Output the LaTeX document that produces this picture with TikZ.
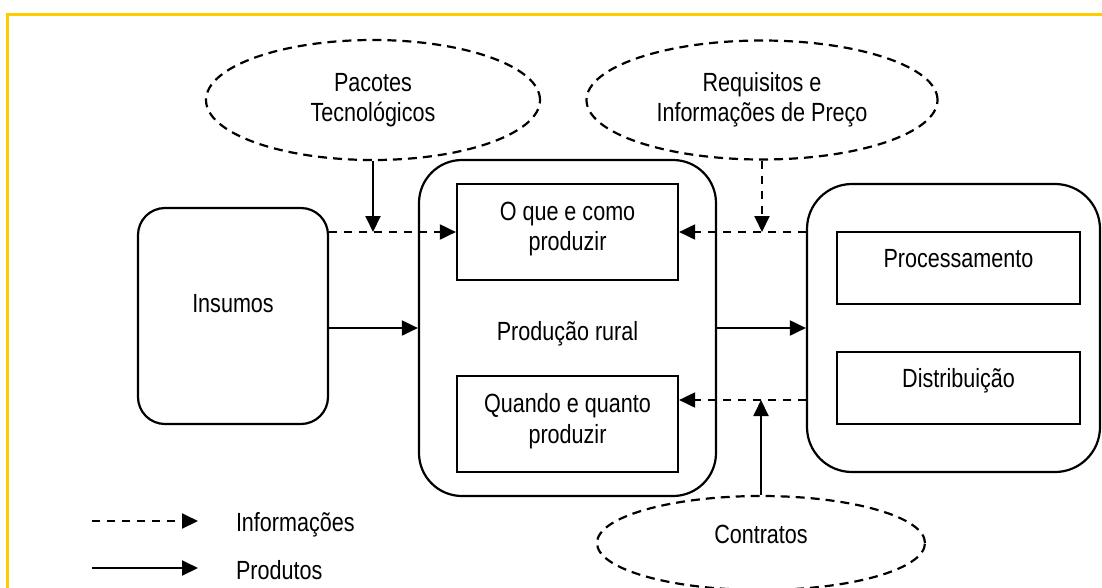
\documentclass[tikz,border=0pt]{standalone}
\usepackage{fontspec}
\setmainfont{Liberation Sans}[FakeStretch=0.82]
\usepackage{xcolor}
\usetikzlibrary{arrows.meta,shapes.geometric,positioning}
\definecolor{frameyellow}{RGB}{255,204,0}

\begin{document}
\begin{tikzpicture}[
    x=1pt, y=-1pt, line width=2pt,
    every node/.style={font=\fontsize{26.3}{30.5}\selectfont, align=center, inner sep=0pt},
    block/.style={draw, line width=2.2pt, rounded corners=#1},
    stage/.style={draw, line width=2.2pt},
    bubble/.style={draw, ellipse, line width=2.2pt, dash pattern=on 9pt off 6pt},
    info/.style={dash pattern=on 8pt off 7pt, -{Triangle[length=16pt,width=15pt]}},
    goods/.style={-{Triangle[length=16pt,width=15pt]}},
  ]
  \useasboundingbox (0,0) rectangle (1102,587);
  \draw[frameyellow, line width=3pt]
    (7.5,595) -- (7.5,14.5) -- (1110,14.5)
  ;

  \node[block=27pt, minimum width=190pt, minimum height=216pt] (insumos) at (233,316) {};
  \node[block=43pt, minimum width=297pt, minimum height=336pt] (farm) at (567.5,328) {};
  \node[block=45pt, minimum width=293pt, minimum height=288pt] (market) at (953.5,328) {};
  \node[stage, minimum width=221pt, minimum height=96pt] (what) at (567.5,232) {};
  \node[stage, minimum width=221pt, minimum height=96pt] (when) at (567.5,424) {};
  \node[stage, minimum width=243pt, minimum height=72pt] (proc) at (958.5,268) {};
  \node[stage, minimum width=243pt, minimum height=72pt] (dist) at (958.5,388) {};
  \node[bubble, minimum width=334pt, minimum height=120pt] (pacotes) at (373,100)
    {Pacotes\\Tecnológicos};
  \node[bubble, minimum width=351pt, minimum height=119pt] (requisitos) at (762,100)
    {Requisitos e\\Informações de Preço};
  \node[bubble, minimum width=328pt, minimum height=94pt] (contratos) at (761,543) {};

  \node[anchor=base] at ([yshift=4pt]insumos.center) {Insumos};
  \node[anchor=base] at ([yshift=-12pt]farm.center) {Produção rural};
  \node[below=18pt of what.north] {O que e como\\produzir};
  \node[below=18pt of when.north] {Quando e quanto\\produzir};
  \node[below=17pt of proc.north] {Processamento};
  \node[below=17pt of dist.north] {Distribuição};
  \node[anchor=base] at (contratos.center) {Contratos};

  \draw[info] (insumos.east |- what.west) -- (what.west);
  \draw[goods] (pacotes.south) -- (pacotes.south |- what.west);
  \draw[info] (market.west |- what.east) -- (what.east);
  \draw[info] (requisitos.south) -- (requisitos.south |- what.east);
  \draw[goods] (insumos.east |- farm.west) -- (farm.west);
  \draw[goods] (farm.east) -- (market.west);
  \coordinate (low) at (market.west |- 0,400);
  \draw[info] (low) -- (low -| when.east);
  \draw[goods] (contratos.north) -- (contratos.north |- low);

  \coordinate (infofrom) at (92,521);
  \coordinate (infoto) at (198,521);
  \coordinate (goodsfrom) at (92,568);
  \coordinate (goodsto) at (198,568);
  \draw[info] (infofrom) -- (infoto);
  \draw[goods] (goodsfrom) -- (goodsto);
  \node[anchor=base west] (leginfo) at (235,531.5) {Informações};
  \node[anchor=base west] (leggoods) at (235,579.3) {Produtos};
\end{tikzpicture}
\end{document}
